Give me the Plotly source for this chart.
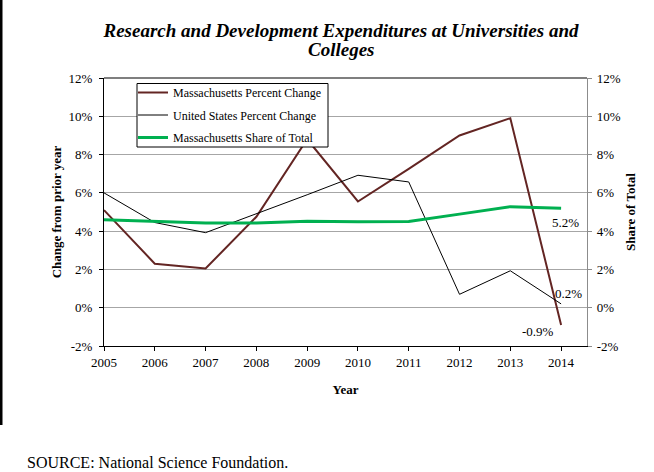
import plotly.graph_objects as go

years = [2005, 2006, 2007, 2008, 2009, 2010, 2011, 2012, 2013, 2014]
ma_change = [5.1, 2.3, 2.05, 4.75, 8.8, 5.55, 7.25, 9.0, 9.9, -0.9]
us_change = [6.0, 4.45, 3.92, 4.9, 5.9, 6.92, 6.57, 0.7, 1.93, 0.2]
ma_share = [4.6, 4.5, 4.42, 4.43, 4.52, 4.49, 4.5, 4.89, 5.28, 5.2]
y_ticks = [-2, 0, 2, 4, 6, 8, 10, 12]

FONT = "Liberation Serif"
W, H = 654, 472
L, R, T, B = 104, 67, 78, 126
PW, PH = W - L - R, H - T - B


def px_x(x):
    return (x - L) / PW


def px_y(y):
    return ((H - B) - y) / PH


fig = go.Figure()
fig.add_trace(go.Scatter(x=years, y=ma_change, mode="lines", name="Massachusetts Percent Change",
                         legendgroup="a", line=dict(color="#632523", width=2)))
fig.add_trace(go.Scatter(x=years, y=us_change, mode="lines", name="United States Percent Change",
                         legendgroup="b", line=dict(color="#000000", width=1)))
fig.add_trace(go.Scatter(x=years, y=ma_share, mode="lines", name="Massachusetts Share of Total",
                         legendgroup="c", line=dict(color="#00b050", width=3), yaxis="y2"))

lab_font = dict(family=FONT, size=13, color="black")
fig.add_annotation(x=years[-1], y=ma_share[-1], yref="y2", text=f"{ma_share[-1]:.1f}%", showarrow=False,
                   xshift=4, yshift=-14.5, font=lab_font)
fig.add_annotation(x=years[-1], y=us_change[-1], text=f"{us_change[-1]:.1f}%", showarrow=False,
                   xshift=7, yshift=10, font=lab_font)
fig.add_annotation(x=years[-1], y=ma_change[-1], text=f"{ma_change[-1]:.1f}%", showarrow=False,
                   xshift=-23, yshift=-7, font=lab_font)

# second title line
fig.add_annotation(xref="paper", yref="paper", x=px_x(341), y=px_y(50), xanchor="center", yanchor="middle",
                   showarrow=False, text="<b><i>Colleges</i></b>",
                   font=dict(family=FONT, size=19, color="black"))

fig.add_annotation(xref="paper", yref="paper", x=px_x(25), y=px_y(462),
                   xanchor="left", yanchor="middle", showarrow=False,
                   text="SOURCE: National Science Foundation.", font=dict(family=FONT, size=16, color="black"))

# left black frame bar
fig.add_shape(type="rect", xref="paper", yref="paper",
              x0=px_x(0), x1=px_x(2.5), y0=px_y(425), y1=px_y(0),
              fillcolor="black", line=dict(width=0), layer="above")
# top border of plot
fig.add_shape(type="line", xref="paper", yref="paper", x0=0, x1=1, y0=1, y1=1,
              line=dict(color="black", width=1.2))
# legend box
fig.add_shape(type="rect", xref="paper", yref="paper",
              x0=px_x(137), x1=px_x(328), y0=px_y(147), y1=px_y(83.5),
              fillcolor="white", line=dict(color="black", width=1), layer="above")

axis_font = dict(family=FONT, size=13, color="black")
title_font = dict(family=FONT, size=13, color="black")
fig.update_layout(
    width=W, height=H,
    margin=dict(l=L, r=R, t=T, b=B),
    paper_bgcolor="white", plot_bgcolor="white",
    font=dict(family=FONT, color="black"),
    title=dict(text="<b><i>Research and Development Expenditures at Universities and</i></b>",
               x=341 / W, xanchor="center", y=1 - 30.5 / H, yanchor="middle",
               font=dict(family=FONT, size=19, color="black")),
    xaxis=dict(range=[2005, 2014.51], tickmode="array", tickvals=years, ticktext=[str(y) for y in years],
               showgrid=False, zeroline=False, showline=True, linecolor="black", linewidth=1.2,
               ticks="outside", ticklen=4, tickcolor="black", tickfont=axis_font,
               title=dict(text="<b>Year</b>", font=title_font, standoff=16)),
    yaxis=dict(range=[-2, 12], tickmode="array", tickvals=y_ticks, ticktext=[f"{v}%" for v in y_ticks],
               showgrid=True, gridcolor="#a6a6a6", gridwidth=1, zeroline=False,
               showline=True, linecolor="black", linewidth=1.2, ticks="outside", ticklen=4, tickcolor="black",
               tickfont=axis_font, ticklabelstandoff=4,
               title=dict(text="<b>Change from prior year</b>", font=title_font, standoff=3)),
    yaxis2=dict(range=[-2, 12], tickmode="array", tickvals=y_ticks, ticktext=[f"{v}%" for v in y_ticks],
                overlaying="y", side="right", showgrid=False, zeroline=False,
                showline=True, linecolor="#8c8c8c", linewidth=1.2, ticks="outside", ticklen=4, tickcolor="#8c8c8c",
                tickfont=axis_font, ticklabelstandoff=2,
                title=dict(text="<b>Share of Total</b>", font=title_font, standoff=6)),
    legend=dict(x=px_x(133), y=px_y(78), xanchor="left", yanchor="top",
                bgcolor="rgba(0,0,0,0)", borderwidth=0,
                font=dict(family=FONT, size=12, color="black"), tracegroupgap=3.5),
    showlegend=True,
)

fig.write_html("out.html", config={"displayModeBar": False},
               post_script="document.body.style.margin='0px';")
